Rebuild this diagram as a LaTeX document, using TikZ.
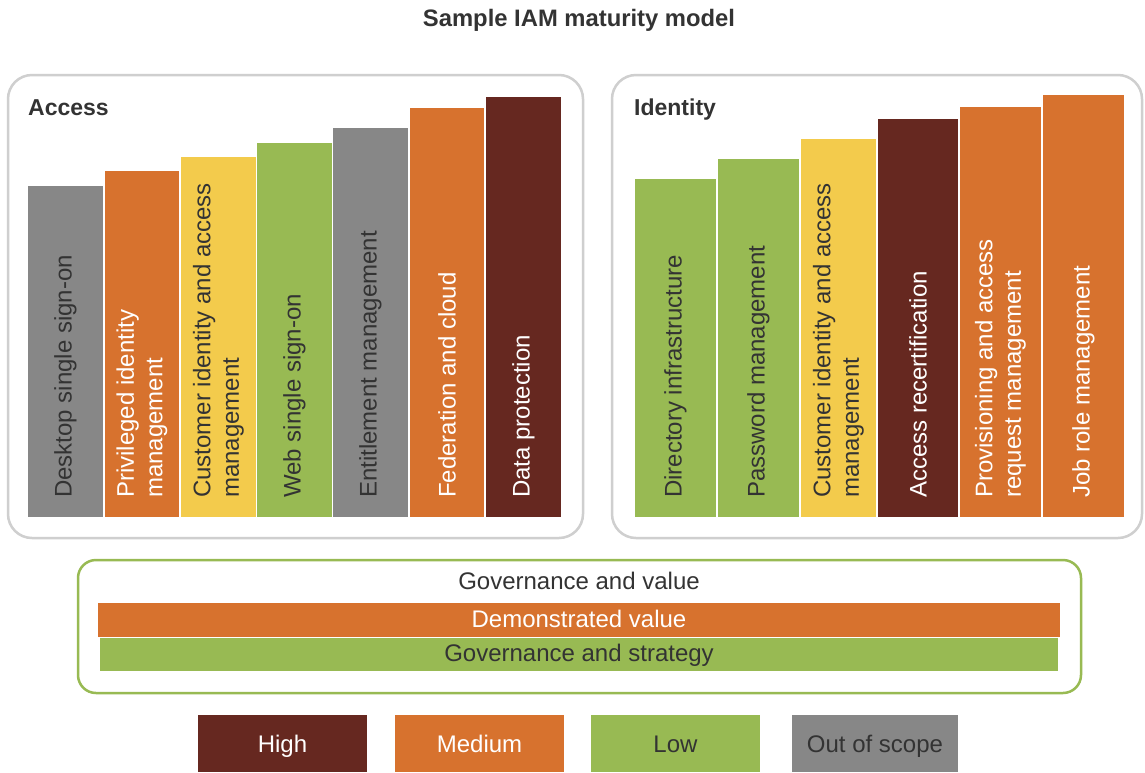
\documentclass[tikz,border=0pt]{standalone}
\usepackage{fontspec}
\setmainfont{Liberation Sans}
\definecolor{cgray}{HTML}{878787}
\definecolor{corange}{HTML}{D7722E}
\definecolor{cyellow}{HTML}{F3CB4C}
\definecolor{cgreen}{HTML}{98BA53}
\definecolor{cdark}{HTML}{662820}
\definecolor{ctext}{HTML}{333333}
\definecolor{cpanel}{HTML}{CFCFCF}
\newcommand\iambar[7]{%
  \path[fill=#5] (#2,#4) rectangle (#3,517);
  \node[barlabel, text=#6] (#1) at ({(#2+#3)/2},498) {#7};
}
\newcommand\legbox[5]{%
  \path[fill=#4] (#2,715) rectangle (#3,772);
  \node[txt, text=#5, anchor=base] (#1) at ({(#2+#3)/2},752) {#1};
}
\begin{document}
\begin{tikzpicture}[x=1pt,y=-1pt,
  txt/.style={font=\fontsize{24}{28.5}\selectfont, inner sep=0pt},
  barlabel/.style={txt, rotate=90, anchor=west, align=left},
  heading/.style={font=\fontsize{23}{28}\selectfont\bfseries, text=ctext, inner sep=0pt},
  panel/.style={draw=cpanel, line width=2.5pt, rounded corners=24pt}]
\useasboundingbox[fill=white] (0,0) rectangle (1145,772);

\node[heading, font=\fontsize{23.8}{28}\selectfont\bfseries, anchor=base] (title) at (579,26) {Sample IAM maturity model};

% Access panel
\draw[panel] (8,75) rectangle (583,538);
\node[heading, anchor=base west] (access) at (28,115) {Access};
\iambar{a1}{28}{103}{186}{cgray}{ctext}{Desktop single sign-on}
\iambar{a2}{105}{179}{171}{corange}{white}{Privileged identity\\management}
\iambar{a3}{181}{256}{157}{cyellow}{ctext}{Customer identity and access\\management}
\iambar{a4}{257}{332}{143}{cgreen}{ctext}{Web single sign-on}
\iambar{a5}{333}{408}{128}{cgray}{ctext}{Entitlement management}
\iambar{a6}{410}{484}{108}{corange}{white}{Federation and cloud}
\iambar{a7}{486}{561}{97}{cdark}{white}{Data protection}

% Identity panel
\draw[panel] (612,75) rectangle (1142,538);
\node[heading, anchor=base west] (identity) at (634,115) {Identity};
\iambar{i1}{635}{716}{179}{cgreen}{ctext}{Directory infrastructure}
\iambar{i2}{718}{799}{159}{cgreen}{ctext}{Password management}
\iambar{i3}{801}{876}{139}{cyellow}{ctext}{Customer identity and access\\management}
\iambar{i4}{878}{958}{119}{cdark}{white}{Access recertification}
\iambar{i5}{960}{1041}{107}{corange}{white}{Provisioning and access\\request management}
\iambar{i6}{1043}{1124}{95}{corange}{white}{Job role management}

% Governance
\draw[cgreen, line width=2.5pt, rounded corners=18pt] (78,560) rectangle (1081,693);
\node[txt, text=ctext, anchor=base] (gv) at (579,589) {Governance and value};
\path[fill=corange] (98,603) rectangle (1060,637);
\node[txt, text=white, anchor=base] (dv) at (579,627) {Demonstrated value};
\path[fill=cgreen] (100,638) rectangle (1058,671);
\node[txt, text=ctext, anchor=base] (gs) at (579,661) {Governance and strategy};

% Legend
\legbox{High}{198}{367}{cdark}{white}
\legbox{Medium}{395}{564}{corange}{white}
\legbox{Low}{591}{760}{cgreen}{ctext}
\legbox{Out of scope}{792}{958}{cgray}{ctext}
\end{tikzpicture}
\end{document}
